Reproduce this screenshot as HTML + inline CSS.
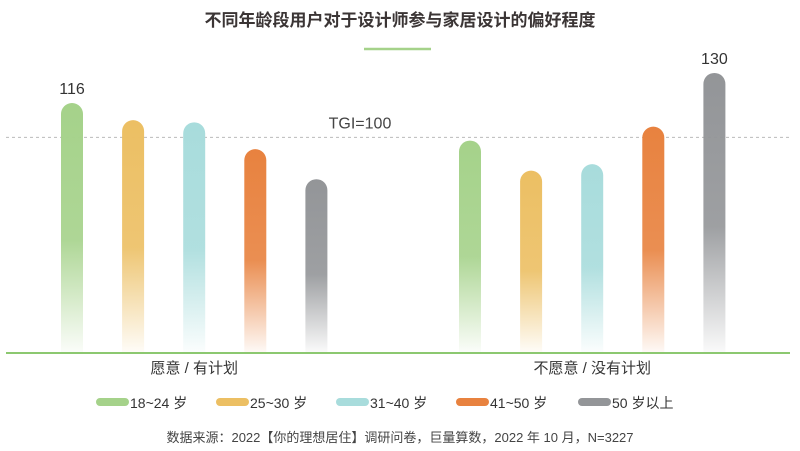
<!DOCTYPE html>
<html><head><meta charset="utf-8"><style>
body{margin:0;background:#fff;}
svg{display:block;font-family:"Liberation Sans","Noto Sans CJK SC",sans-serif;}
</style></head><body>
<svg id="chart" width="800" height="451" viewBox="0 0 800 451">
<defs></defs>
<text x="400" y="26" text-anchor="middle" font-size="17" font-weight="bold" fill="#3b3535">不同年龄段用户对于设计师参与家居设计的偏好程度</text>
<line x1="364" y1="49" x2="431" y2="49" stroke="#a5d28a" stroke-width="2.5"/>
<g id="bars"></g>
<line id="base" x1="6" x2="790" y1="353" y2="353" stroke="#8cc870" stroke-width="2"/>
<g id="legend"></g>
<text x="400" y="442" text-anchor="middle" font-size="13" fill="#444">数据来源：2022【你的理想居住】调研问卷，巨量算数，2022 年 10 月，N=3227</text>
</svg>
<script>
const groups=["愿意 / 有计划","不愿意 / 没有计划"];
const series=["18~24 岁","25~30 岁","31~40 岁","41~50 岁","50 岁以上"];
const colors=["#a5d28a","#ecbf63","#a8dcdc","#e8823f","#939598"];
const valuesWilling=[116,108,107,94.5,80.5];
const valuesUnwilling=[98.5,84.5,87.5,105,130];
const labelValues=[[116,null,null,null,null],[null,null,null,null,130]];
const tgi=100;

const NS="http://www.w3.org/2000/svg";
const svg=document.getElementById('chart');
const defs=svg.querySelector('defs');
const g=document.getElementById('bars');
const baseY=352, unit=249/116;
const y=v=>baseY-v*unit;
const groupStart=[72,470], step=61.1, bw=22;
const x=(gi,si)=>groupStart[gi]+si*step;
function mk(t,a){const e=document.createElementNS(NS,t);for(const k in a)e.setAttribute(k,a[k]);return e;}
colors.forEach((c,i)=>{
  const lg=mk('linearGradient',{id:'gr'+i,x1:0,y1:0,x2:0,y2:1});
  lg.appendChild(mk('stop',{offset:'0','stop-color':c,'stop-opacity':1}));
  lg.appendChild(mk('stop',{offset:'0.55','stop-color':c,'stop-opacity':0.9}));
  lg.appendChild(mk('stop',{offset:'1','stop-color':c,'stop-opacity':0.05}));
  defs.appendChild(lg);
});
const dl=mk('line',{x1:6,x2:790,y1:y(tgi),y2:y(tgi),stroke:'#bbb','stroke-dasharray':'3,3','stroke-width':1});


g.appendChild(dl);
const tl=mk('text',{x:360,y:y(tgi)-9,'text-anchor':'middle','font-size':16,fill:'#444'});
tl.textContent='TGI='+tgi;


g.appendChild(tl);
[valuesWilling,valuesUnwilling].forEach((vals,gi)=>{
  vals.forEach((v,si)=>{
    const cx=x(gi,si), top=y(v), h=baseY-top;
    const p=mk('path',{d:`M${cx-bw/2},${baseY} L${cx-bw/2},${top+bw/2} A${bw/2},${bw/2} 0 0 1 ${cx+bw/2},${top+bw/2} L${cx+bw/2},${baseY} Z`,fill:`url(#gr${si})`});
    
    
    g.appendChild(p);
    const lv=labelValues[gi][si];
    if(lv!==null){
      const t=mk('text',{x:cx,y:top-9,'text-anchor':'middle','font-size':16,fill:'#333'});
      t.textContent=lv;
      
      
      g.appendChild(t);
    }
  });
  const gl=mk('text',{x:(x(gi,0)+x(gi,4))/2,y:373,'text-anchor':'middle','font-size':15,fill:'#333'});
  gl.textContent=groups[gi];
  
  
  g.appendChild(gl);
});
const leg=document.getElementById('legend');
const lx=[96,216,336,456,578];
series.forEach((s,i)=>{
  const r=mk('rect',{x:lx[i],y:398,width:33,height:8,rx:4,fill:colors[i]});
  
  
  leg.appendChild(r);
  const t=mk('text',{x:lx[i]+34,y:408,'font-size':14,fill:'#333'});
  t.textContent=s;
  
  
  leg.appendChild(t);
});
</script>
</body></html>
